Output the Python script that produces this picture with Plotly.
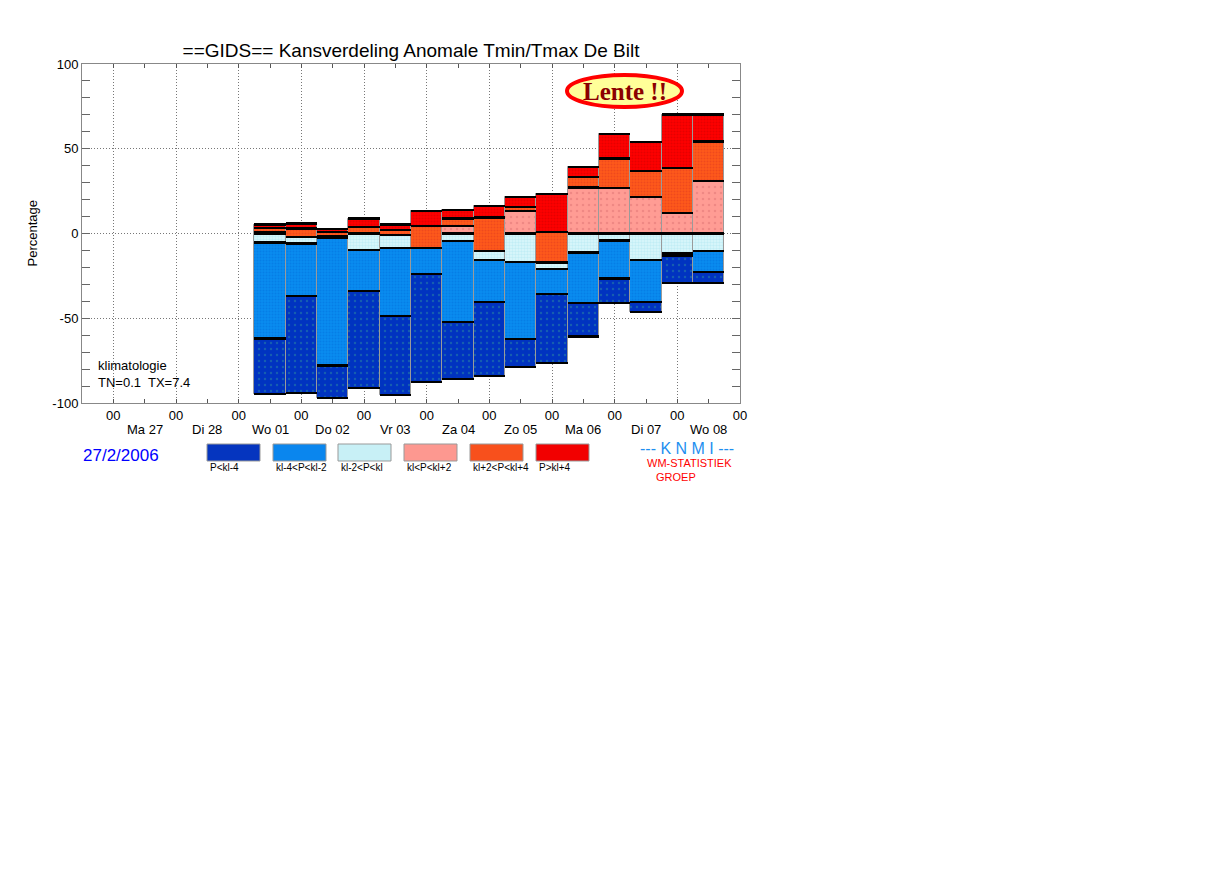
import numpy as np
import plotly.graph_objects as go

# tijd in dagen vanaf ma 27-02-2006 00 UTC (midden van elk balkje)
tijdstap = [2.5, 3.0, 3.5, 4.0, 4.5, 5.0, 5.5, 6.0, 6.5, 7.0, 7.5, 8.0, 8.5, 9.0, 9.5]
dagen = ["Ma 27", "Di 28", "Wo 01", "Do 02", "Vr 03", "Za 04", "Zo 05", "Ma 06", "Di 07", "Wo 08"]
dag_midden = [0.5, 1.5, 2.5, 3.5, 4.5, 5.5, 6.5, 7.5, 8.5, 9.5]
uur_ticks = [0, 1, 2, 3, 4, 5, 6, 7, 8, 9, 10]

# onderkant van elke balk (percentage)
ondergrens = [-94.7, -94.1, -97.1, -91.2, -95.1, -87.5, -85.9, -83.9, -78.8, -76.5, -60.8, -41.2, -46.1, -29.4, -29.4]

# kansen per klasse, van onder naar boven gestapeld
p_lt_kl4 = [32.7, 57.4, 19.2, 57.5, 46.5, 63.4, 33.9, 43.5, 16.6, 40.8, 19.6, 14.7, 5.8, 16.4, 6.6]
kl4_kl2 = [56.7, 30.8, 75.1, 23.9, 40.1, 15.6, 47.5, 24.7, 45.5, 14.9, 30.0, 22.4, 24.6, 1.4, 12.6]
kl2_kl = [5.3, 3.9, 1.4, 9.5, 7.5, 0.0, 4.5, 5.3, 16.7, 3.7, 11.2, 4.1, 15.7, 11.6, 10.2]
kl_kl2 = [0.6, 0.0, 0.0, 0.3, 0.0, 0.0, 4.5, 0.0, 13.1, 0.0, 27.1, 26.7, 21.5, 11.9, 30.9]
kl2_kl4 = [2.7, 4.9, 2.4, 3.9, 2.9, 13.0, 4.3, 19.8, 2.4, 18.1, 6.4, 17.6, 15.6, 26.9, 23.4]
p_gt_kl4 = [2.0, 3.0, 1.5, 4.9, 3.4, 8.6, 4.9, 6.8, 6.0, 22.5, 5.7, 14.2, 16.7, 31.4, 15.9]

klasse_namen = ["P<kl-4", "kl-4<P<kl-2", "kl-2<P<kl", "kl<P<kl+2", "kl+2<P<kl+4", "P>kl+4"]

# (achtergrond, stippel, stippelgrootte, dichtheid, legendakleur)
stijlen = [
    ("#0033c0", "#2a8aa0", 6, 0.12, "#0535bf"),
    ("#0a8cf0", "#0070dc", 3, 0.4, "#0a86ee"),
    ("#dcf7fb", "#a6e3ef", 3, 0.5, "#c8f0f6"),
    ("#ff9c94", "#e07474", 6, 0.15, "#fd9890"),
    ("#ff5a1a", "#e03820", 3, 0.4, "#f8501c"),
    ("#ff0000", "#cc0000", 3, 0.4, "#f20000"),
]

# plotgebied in schermpixels; de pagina heeft 8px body-marge
OFF = 8
L, R, T, B = 82, 740, 64, 403
W, H = 1210, 870


def px(x):
    return (x - L) / (R - L)


def py(y):
    return (B - y) / (B - T)


fig = go.Figure()

basis = np.array(ondergrens, dtype=float)
grenzen = [basis.copy()]
for naam, waarden, (bg, fg, sz, sol, _) in zip(klasse_namen,
                                              [p_lt_kl4, kl4_kl2, kl2_kl, kl_kl2, kl2_kl4, p_gt_kl4],
                                              stijlen):
    h = np.array(waarden, dtype=float)
    fig.add_trace(go.Bar(
        x=tijdstap, y=h, base=basis, width=0.5, name=naam, showlegend=False,
        marker=dict(color=bg, line=dict(color="#9a9a9a", width=1),
                    pattern=dict(shape=".", bgcolor=bg, fgcolor=fg, size=sz, solidity=sol)),
    ))
    basis = basis + h
    grenzen.append(basis.copy())

# zwarte scheidingslijnen tussen de klassen
lijn_x = np.tile(tijdstap, len(grenzen))
lijn_y = np.concatenate(grenzen)
fig.add_trace(go.Bar(
    x=lijn_x, y=np.full(len(lijn_x), 1.3), base=lijn_y - 0.65, width=0.5,
    marker=dict(color="black", line=dict(width=0)), showlegend=False, hoverinfo="skip",
))

font = "Liberation Sans, Arial, sans-serif"

fig.update_layout(
    width=W, height=H, autosize=False,
    margin=dict(l=L - OFF, r=W - (R - OFF), t=T - OFF, b=H - (B - OFF), pad=0),
    paper_bgcolor="white", plot_bgcolor="white",
    barmode="overlay", bargap=0,
    font=dict(family=font, size=13, color="black"),
    title=dict(text="==GIDS== Kansverdeling Anomale Tmin/Tmax De Bilt",
               x=0.5, xref="paper", xanchor="center",
               y=1 - (50 - OFF) / H, yref="container", yanchor="middle",
               font=dict(family=font, size=19, color="black")),
)

fig.update_xaxes(
    range=[-0.5, 10], tickmode="array", tickvals=uur_ticks, ticktext=["00"] * len(uur_ticks),
    ticks="inside", ticklen=4, tickcolor="#555",
    minor=dict(tickmode="linear", tick0=0, dtick=0.5, ticks="inside", ticklen=4, tickcolor="#555", showgrid=False),
    showgrid=True, gridcolor="#777", griddash="1px,2px", gridwidth=1,
    showline=True, linecolor="#888", linewidth=1, mirror="ticks", zeroline=False,
    tickfont=dict(size=13),
)
fig.update_yaxes(
    range=[-100, 100], tickmode="array", tickvals=[-100, -50, 0, 50, 100],
    ticktext=["-100", "-50", "0", "50", "100"],
    ticks="inside", ticklen=8, tickcolor="#666",
    minor=dict(tickmode="linear", tick0=0, dtick=10, ticks="inside", ticklen=8, tickcolor="#666", showgrid=False),
    showgrid=True, gridcolor="#777", griddash="1px,2px", gridwidth=1,
    showline=True, linecolor="#888", linewidth=1, mirror="ticks", zeroline=False,
    tickfont=dict(size=13),
)

# daglabels onder de 00-uur labels
for d, xm in zip(dagen, dag_midden):
    fig.add_annotation(x=xm, xref="x", y=py(430), yref="paper", text=d, showarrow=False,
                       font=dict(size=13), xanchor="center", yanchor="middle")

fig.add_annotation(x=px(32), y=0.5, xref="paper", yref="paper", text="Percentage", textangle=-90,
                   showarrow=False, font=dict(size=13), xanchor="center", yanchor="middle")

fig.add_annotation(x=px(96), y=py(365), xref="paper", yref="paper", text="klimatologie",
                   showarrow=False, font=dict(size=13), xanchor="left", yanchor="middle")
fig.add_annotation(x=px(96), y=py(382), xref="paper", yref="paper", text="TN=0.1  TX=7.4",
                   showarrow=False, font=dict(size=13), xanchor="left", yanchor="middle")

# Lente !! ballon
fig.add_shape(type="circle", xref="paper", yref="paper",
              x0=px(567), x1=px(682), y0=py(107), y1=py(75),
              fillcolor="#ffff99", line=dict(color="#ff0000", width=4))
fig.add_annotation(x=px(625), y=py(91), xref="paper", yref="paper", text="<b>Lente !!</b>",
                   showarrow=False, xanchor="center", yanchor="middle",
                   font=dict(family="Liberation Serif, Times New Roman, serif", size=25, color="#8b0000"))

# legenda
leg_x = [207, 273, 338, 404, 470, 536]
for naam, x0, st in zip(klasse_namen, leg_x, stijlen):
    fig.add_shape(type="rect", xref="paper", yref="paper",
                  x0=px(x0), x1=px(x0 + 53), y0=py(461), y1=py(444),
                  fillcolor=st[4], line=dict(color="#999", width=1))
    fig.add_annotation(x=px(x0 + 1), y=py(467), xref="paper", yref="paper", text=naam,
                       showarrow=False, xanchor="left", yanchor="middle", font=dict(size=10))

fig.add_annotation(x=px(121), y=py(455), xref="paper", yref="paper", text="27/2/2006",
                   showarrow=False, xanchor="center", yanchor="middle",
                   font=dict(size=17, color="#0000ff"))
fig.add_annotation(x=px(687), y=py(449), xref="paper", yref="paper", text="--- K N M I ---",
                   showarrow=False, xanchor="center", yanchor="middle",
                   font=dict(size=16, color="#1e8ff0"))
fig.add_annotation(x=px(689), y=py(463), xref="paper", yref="paper", text="WM-STATISTIEK",
                   showarrow=False, xanchor="center", yanchor="middle",
                   font=dict(size=11, color="#ff0000"))
fig.add_annotation(x=px(676), y=py(477), xref="paper", yref="paper", text="GROEP",
                   showarrow=False, xanchor="center", yanchor="middle",
                   font=dict(size=11, color="#ff0000"))

fig.write_html("out.html")
